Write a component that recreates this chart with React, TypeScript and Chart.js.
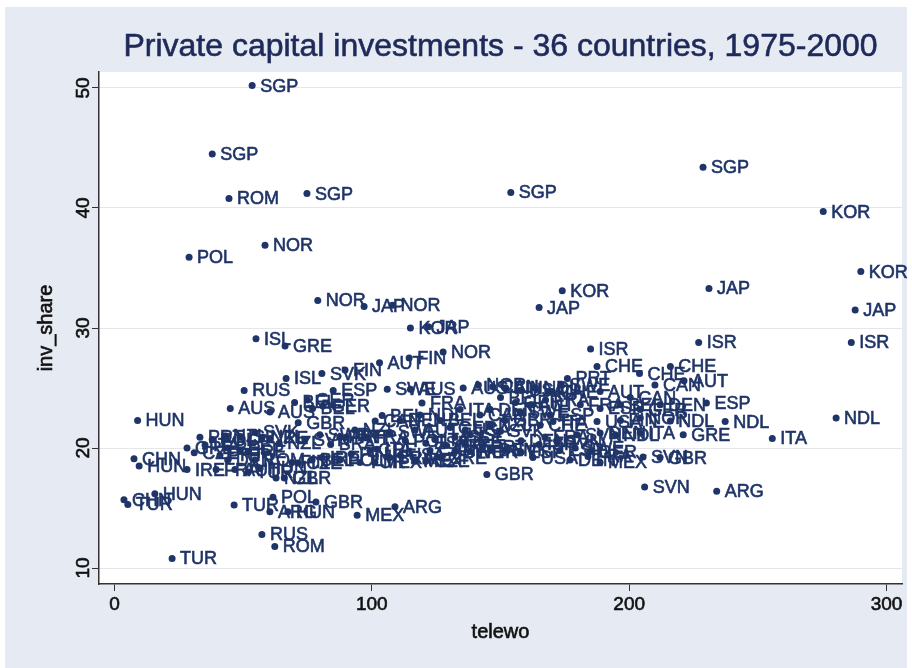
import React, { useEffect, useRef } from "react";
import { Chart, registerables } from "chart.js";
Chart.register(...registerables);

const chartTitle = "Private capital investments - 36 countries, 1975-2000";
const xTitle = "telewo";
const yTitle = "inv_share";
const xTicks = [0, 100, 200, 300];
const yTicks = [10, 20, 30, 40, 50];

const countries = [
  "SGP","SGP","ROM","SGP","SGP","SGP","KOR","KOR","JAP","ISR",
  "POL","NOR","NOR","JAP","KOR","JAP","ISR","JAP","NOR","KOR",
  "JAP","AUT","FIN","NOR","ISL","GRE","ISL","SVK","FIN","RUS",
  "AUS","AUS","ISR","CHE","CHE","CHE","AUT","ESP","NDL","NDL",
  "ITA","GRE","ARG","SVN","SVN","GBR","GBR","ARG","MEX","GBR",
  "POL","ARG","HUN","TUR","RUS","ROM","TUR","CHN","HUN","TUR",
  "CHN","HUN","HUN","IRE",
  "GRE","PRT","POL","NZL","ISL","SVK","NZL","IRE","ITA","BEL",
  "ESP","DEN","ROM","FRA","AUT","TUR","HUN","NZL","GBR","FIN",
  "CZE","BEL","IRE","SVN","SWE","PRT","NZL","POL","TUR","MEX",
  "BRA","GRE",
  "ESP","SWE","AUS","FRA","BEL","GER","GER","BEL","GBR","CAN",
  "PRT","FRA","DEN","NDL","BEL","GER","USA","AUT","SWE","ITA",
  "ISL","CAN","ISL","CAN","SWE","NOR","DEN","SVK","ESP","USA",
  "IRE","GRE","AUS","NOR","CAN","FIN","USA","NDL","ITA","BEL",
  "GER","AUT","FRA","DEN","SWE","ESP","GBR","CHE","NZL","ITA",
  "PRT","SWE","CHE","AUT","CAN","CAN","FRA","ESP","BEL","GER",
  "DEN","ITA","USA","FIN","NOR","NDL","SVN","DEN","NDL","ITA",
  "FRA","ESP","SWE","GER","USA","DEN","MEX",
  "CZE","PRT","IRE","NZL","BRA","FIN","ITA","POL","ESP","GRE",
  "IRE","PRT","SVK","DEN","CZE","BEL","ISR","SVN","FRA","MEX",
];
const telewo = [
  53.5,38,44.5,74.8,154,228.7,275.4,290,287.8,286.3,
  29,58.5,79,231,174,165,227,97,108,115,
  122,103,114.5,127.7,55,66.3,66.7,80.6,89.6,50.4,
  45,60.4,185,187.5,204,216,221.3,230,237.3,280.4,
  255.6,221,234,206,205.4,212,144.7,109,94.3,78.3,
  61.6,60.4,67.4,46.5,57.3,62.3,22.4,3.7,15.7,5.2,
  7.6,9.6,9,28.2,
  28.2,33.2,38,43,48.8,54.6,57.4,60.5,35.2,44,
  48.8,44,54.6,39.5,46.8,52,56.6,62.8,66,69,
  71.4,76.8,80.6,74,79.8,87.6,93.4,87.6,95.4,101.2,
  107,99.3,
  85,106,115,119.5,70,75,81,77,71.4,101.3,
  90,97.4,111,118.7,126.5,130.4,136.3,116.8,107,124.5,
  132.3,142,138.2,122.6,132.3,138.2,146,151.8,157.6,111,
  116.8,126.5,135.5,141.4,147,152,157.8,163.5,168.7,150,
  155.8,161.7,167.5,146,157.6,169.3,151.8,165.4,146,134.3,
  176,173.6,170,188.7,200.4,210,181,188.7,196.6,204.3,
  212,170.4,187.5,196.6,204.3,216,179.7,188.7,194.6,204.3,
  167.3,173,179,184.8,162.6,177,188.7,
  31,41,52,64,84,92,102,113,121,129,
  136,143,150,158,121,104,165,172,184,117,
];
const invShare = [
  50.2,44.5,40.8,41.2,41.3,43.4,39.7,34.7,31.5,28.8,
  35.9,36.9,32.3,33.3,33.1,31.7,28.8,31.8,31.9,30.0,
  30.1,27.1,27.5,28.0,29.1,28.5,25.8,26.2,26.5,24.8,
  23.3,23.0,28.25,26.8,26.2,26.8,25.6,23.75,22.2,22.5,
  20.8,21.1,16.4,16.75,19.25,19.2,17.8,15.1,14.4,15.5,
  15.9,14.7,14.7,15.25,12.8,11.8,10.8,15.7,16.2,15.3,
  19.1,18.5,22.3,18.2,
  20.0,20.9,20.7,21.0,20.9,21.3,20.9,20.8,20.25,20.0,
  19.8,19.0,19.0,18.2,18.2,18.0,18.3,17.5,17.5,18.8,
  18.75,19.0,19.2,20.7,21.1,20.9,21.5,19.0,18.8,18.8,
  19.2,19.8,
  24.8,24.9,24.9,23.75,23.8,24.0,23.5,23.3,22.1,22.25,
  20.9,20.9,22.3,22.75,22.3,21.7,21.5,21.5,21.3,20.7,
  20.9,22.75,21.1,19.8,19.7,19.7,19.8,19.8,19.7,19.4,
  19.0,19.2,25.0,25.25,25.1,25.0,24.8,25.0,24.7,24.2,
  23.8,23.6,24.0,23.2,23.0,22.75,22.3,21.9,21.9,23.2,
  25.8,25.25,24.7,24.7,24.2,25.25,23.6,23.3,23.6,23.2,
  23.6,22.2,22.2,22.3,22.5,22.25,21.1,21.25,21.1,21.25,
  20.9,19.8,20.0,19.7,19.2,19.0,18.8,
  19.6,19.4,19.7,20.4,20.3,19.5,19.9,20.6,20.4,20.2,
  20.4,20.1,21.4,20.6,18.9,22.7,20.3,20.5,19.3,18.9,
];

const NAVY = "#1f3468";
const BG = "#e6eaf2";
const FONT = "'Liberation Sans', Arial, sans-serif";

function heavyText(ctx: CanvasRenderingContext2D, s: string, x: number, y: number, w: number) {
  ctx.fillText(s, x, y);
  ctx.lineWidth = w;
  ctx.strokeText(s, x, y);
}

export default function App() {
  const ref = useRef<HTMLCanvasElement | null>(null);
  useEffect(() => {
    const canvas = ref.current;
    if (!canvas) return;
    const W = 912, H = 668;
    const plugin = {
      id: "stataLook",
      beforeDraw(chart: any) {
        const ctx = chart.ctx;
        const a = chart.chartArea;
        ctx.save();
        ctx.fillStyle = "#ffffff";
        ctx.fillRect(0, 0, W, H);
        ctx.fillStyle = BG;
        ctx.fillRect(5, 7, W - 10, H - 7);
        ctx.fillStyle = "#ffffff";
        ctx.fillRect(a.left, a.top, a.right - a.left, a.bottom - a.top);
        ctx.restore();
      },
      afterDatasetsDraw(chart: any) {
        const ctx = chart.ctx;
        const meta = chart.getDatasetMeta(0);
        ctx.save();
        ctx.fillStyle = NAVY;
        ctx.strokeStyle = NAVY;
        ctx.font = `18px ${FONT}`;
        ctx.textBaseline = "middle";
        ctx.textAlign = "left";
        meta.data.forEach((el: any, i: number) => {
          heavyText(ctx, countries[i], el.x + 8, el.y + 1, 0.6);
        });
        ctx.restore();
      },
      afterDraw(chart: any) {
        const ctx = chart.ctx;
        const a = chart.chartArea;
        const xs = chart.scales.x;
        const ys = chart.scales.y;
        ctx.save();
        ctx.fillStyle = "#1e2a5a";
        ctx.strokeStyle = "#1e2a5a";
        ctx.font = `32px ${FONT}`;
        ctx.textAlign = "center";
        ctx.textBaseline = "middle";
        heavyText(ctx, chartTitle, (a.left + a.right) / 2, 47, 0.6);
        ctx.fillStyle = "#111111";
        ctx.strokeStyle = "#111111";
        ctx.font = `19px ${FONT}`;
        xTicks.forEach((t) => {
          heavyText(ctx, String(t), xs.getPixelForValue(t), a.bottom + 21, 0.6);
        });
        yTicks.forEach((t) => {
          ctx.save();
          ctx.translate(a.left - 15, ys.getPixelForValue(t));
          ctx.rotate(-Math.PI / 2);
          heavyText(ctx, String(t), 0, 0, 0.6);
          ctx.restore();
        });
        ctx.font = `20px ${FONT}`;
        heavyText(ctx, xTitle, (a.left + a.right) / 2, a.bottom + 48, 0.6);
        ctx.save();
        ctx.translate(46, (a.top + a.bottom) / 2);
        ctx.rotate(-Math.PI / 2);
        heavyText(ctx, yTitle, 0, 0, 0.6);
        ctx.restore();
        ctx.restore();
      },
    };
    const chart = new Chart(canvas, {
      type: "scatter",
      data: {
        datasets: [
          {
            data: telewo.map((x, i) => ({ x, y: invShare[i] })),
            backgroundColor: NAVY,
            borderWidth: 0,
            pointRadius: 3.5,
          },
        ],
      },
      options: {
        responsive: false,
        animation: false,
        layout: { padding: { left: 0, top: 72, right: 10, bottom: 0 } },
        plugins: { legend: { display: false }, tooltip: { enabled: false }, title: { display: false } },
        scales: {
          x: {
            type: "linear",
            min: -6,
            max: 306,
            afterFit: (s: any) => { s.height = 84; },
            afterBuildTicks: (s: any) => { s.ticks = xTicks.map((v) => ({ value: v })); },
            ticks: { display: false },
            grid: { drawOnChartArea: false, drawTicks: true, tickLength: 7, tickColor: "#333", color: "#333" },
            border: { color: "#333", width: 1.5 },
          },
          y: {
            type: "linear",
            min: 8.67,
            max: 51.33,
            afterFit: (s: any) => { s.width = 99; },
            afterBuildTicks: (s: any) => { s.ticks = yTicks.map((v) => ({ value: v })); },
            ticks: { display: false },
            grid: { drawOnChartArea: true, drawTicks: true, tickLength: 7, tickColor: "#333", color: "#e4e6ea", lineWidth: 1 },
            border: { color: "#333", width: 1.5 },
          },
        },
      },
      plugins: [plugin],
    });
    return () => chart.destroy();
  }, []);
  return (
    <div style={{ position: "fixed", left: 0, top: 0, width: 912, height: 668 }}>
      <canvas ref={ref} width={912} height={668} style={{ display: "block", width: 912, height: 668 }} />
    </div>
  );
}
